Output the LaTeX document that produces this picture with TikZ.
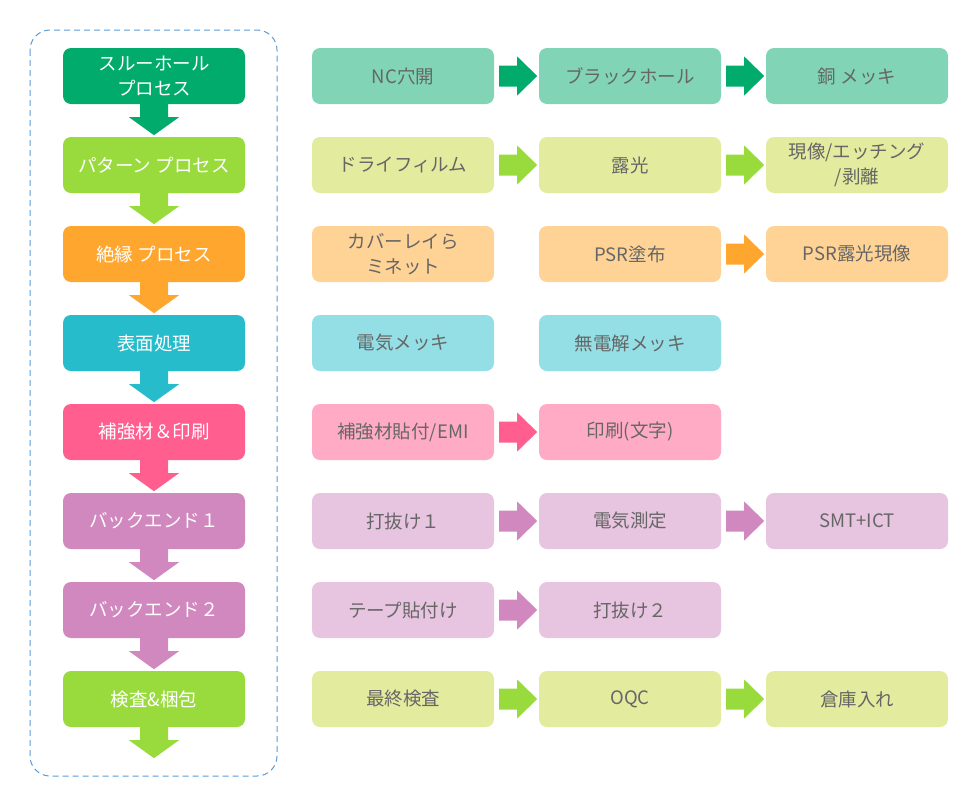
\documentclass[tikz,border=0pt]{standalone}
\usepackage{fontspec}
\setmainfont{Noto Sans CJK JP}
\usetikzlibrary{calc}
\definecolor{g1}{HTML}{00AB6B}\definecolor{g1l}{HTML}{81D5B6}
\definecolor{g2}{HTML}{99DB3D}\definecolor{g2l}{HTML}{E3EC9E}
\definecolor{g3}{HTML}{FFA62E}\definecolor{g3l}{HTML}{FFD395}
\definecolor{g4}{HTML}{26BCCB}\definecolor{g4l}{HTML}{94DFE5}
\definecolor{g5}{HTML}{FF5E8F}\definecolor{g5l}{HTML}{FFABC6}
\definecolor{g6}{HTML}{D088BE}\definecolor{g6l}{HTML}{E7C4DF}
\definecolor{txtgray}{HTML}{666666}
\definecolor{dashblue}{HTML}{5B9BD5}
\tikzset{
  mainbox/.style={rectangle, rounded corners=8pt, minimum width=182pt, minimum height=56pt, inner sep=0pt, text=white, align=center, font=\fontsize{18.5}{25}\selectfont},
  subbox/.style={rectangle, rounded corners=8pt, minimum width=182pt, minimum height=56pt, inner sep=0pt, text=txtgray, align=center, font=\fontsize{18.5}{25}\selectfont},
}
\newcommand{\downarr}[2]{% node, color
  \fill[#2] ($(#1.south)+(-14,0)$) -- ($(#1.south)+(14,0)$) -- ($(#1.south)+(14,13)$) -- ($(#1.south)+(25,13)$) -- ($(#1.south)+(0,31)$) -- ($(#1.south)+(-25,13)$) -- ($(#1.south)+(-14,13)$) -- cycle;}
\newcommand{\rightarr}[2]{% node, color
  \fill[#2] ($(#1.east)+(5,-10.5)$) -- ($(#1.east)+(23,-10.5)$) -- ($(#1.east)+(23,-19.5)$) -- ($(#1.east)+(43,0)$) -- ($(#1.east)+(23,19.5)$) -- ($(#1.east)+(23,10.5)$) -- ($(#1.east)+(5,10.5)$) -- cycle;}
\begin{document}
\begin{tikzpicture}[x=1pt,y=-1pt]
\useasboundingbox (0,0) rectangle (973,801);
\draw[dashblue, dashed, dash pattern=on 6pt off 4pt, line width=1pt, rounded corners=20pt] (30,30) rectangle (277,776);
% left column
\node[mainbox, fill=g1] (m1) at (154,76) {スルーホール\\プロセス};
\node[mainbox, fill=g2] (m2) at (154,165) {パターン プロセス};
\node[mainbox, fill=g3] (m3) at (154,254) {絶縁 プロセス};
\node[mainbox, fill=g4] (m4) at (154,343) {表面処理};
\node[mainbox, fill=g5] (m5) at (154,432) {補強材＆印刷};
\node[mainbox, fill=g6] (m6) at (154,521) {バックエンド１};
\node[mainbox, fill=g6] (m7) at (154,610) {バックエンド２};
\node[mainbox, fill=g2] (m8) at (154,699) {検査\&梱包};
\downarr{m1}{g1}\downarr{m2}{g2}\downarr{m3}{g3}\downarr{m4}{g4}
\downarr{m5}{g5}\downarr{m6}{g6}\downarr{m7}{g6}\downarr{m8}{g2}
% right columns
\node[subbox, fill=g1l] (a1) at (403,76) {NC穴開};
\node[subbox, fill=g1l] (b1) at (630,76) {ブラックホール};
\node[subbox, fill=g1l] (c1) at (857,76) {銅 メッキ};
\node[subbox, fill=g2l] (a2) at (403,165) {ドライフィルム};
\node[subbox, fill=g2l] (b2) at (630,165) {露光};
\node[subbox, fill=g2l] (c2) at (857,165) {現像/エッチング\\/剥離};
\node[subbox, fill=g3l] (a3) at (403,254) {カバーレイら\\ミネット};
\node[subbox, fill=g3l] (b3) at (630,254) {PSR塗布};
\node[subbox, fill=g3l] (c3) at (857,254) {PSR露光現像};
\node[subbox, fill=g4l] (a4) at (403,343) {電気メッキ};
\node[subbox, fill=g4l] (b4) at (630,343) {無電解メッキ};
\node[subbox, fill=g5l] (a5) at (403,432) {補強材貼付/EMI};
\node[subbox, fill=g5l] (b5) at (630,432) {印刷(文字)};
\node[subbox, fill=g6l] (a6) at (403,521) {打抜け１};
\node[subbox, fill=g6l] (b6) at (630,521) {電気測定};
\node[subbox, fill=g6l] (c6) at (857,521) {SMT+ICT};
\node[subbox, fill=g6l] (a7) at (403,610) {テープ貼付け};
\node[subbox, fill=g6l] (b7) at (630,610) {打抜け２};
\node[subbox, fill=g2l] (a8) at (403,699) {最終検査};
\node[subbox, fill=g2l] (b8) at (630,699) {OQC};
\node[subbox, fill=g2l] (c8) at (857,699) {倉庫入れ};
% arrows
\rightarr{a1}{g1}\rightarr{b1}{g1}
\rightarr{a2}{g2}\rightarr{b2}{g2}
\rightarr{b3}{g3}
\rightarr{a5}{g5}
\rightarr{a6}{g6}\rightarr{b6}{g6}
\rightarr{a7}{g6}
\rightarr{a8}{g2}\rightarr{b8}{g2}
\end{tikzpicture}
\end{document}
